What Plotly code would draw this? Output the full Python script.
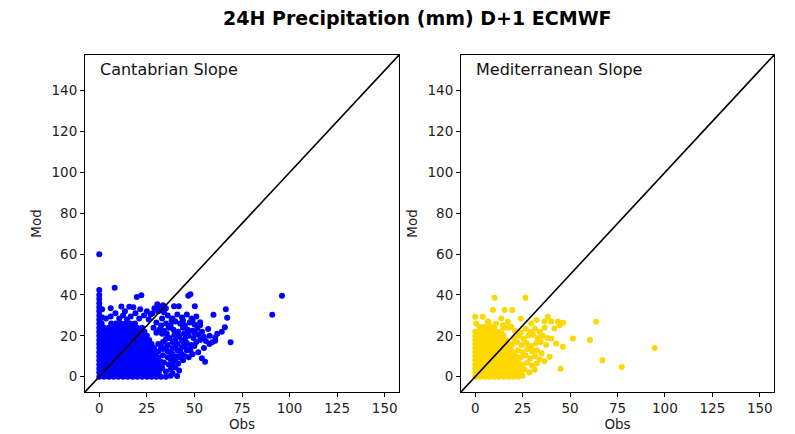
import plotly.graph_objects as go

# ---------------- data ----------------
title_text = "24H Precipitation (mm) D+1 ECMWF"
panel_names = ["Cantabrian Slope", "Mediterranean Slope"]
x_ticks = [0, 25, 50, 75, 100, 125, 150]
y_ticks = [0, 20, 40, 60, 80, 100, 120, 140]
axis_range = [-7.5, 157.5]
diag_ends = [-7.5, 157.5]

# Cantabrian: dense core, listed row by row (Mod level -> Obs values)
cant_core_mod = [0, 2, 4, 6, 8, 10, 12, 14, 16, 18, 20, 22, 24, 26]
cant_core_obs = [
    [0, 2.5, 5, 7.5, 10, 12.5, 15, 17.5, 20, 22.5, 25, 27.5, 30, 32.5],
    [0, 1.25, 3.75, 6.25, 8.75, 11.25, 13.75, 16.25, 18.75, 21.25, 23.75, 26.25, 28.75, 31.25],
    [0, 2.5, 5, 7.5, 10, 12.5, 15, 17.5, 20, 22.5, 25, 27.5, 30, 32.5],
    [0, 1.25, 3.75, 6.25, 8.75, 11.25, 13.75, 16.25, 18.75, 21.25, 23.75, 26.25, 28.75, 31.25],
    [0, 2.5, 5, 7.5, 10, 12.5, 15, 17.5, 20, 22.5, 25, 27.5, 30],
    [0, 1.25, 3.75, 6.25, 8.75, 11.25, 13.75, 16.25, 18.75, 21.25, 23.75, 26.25, 28.75],
    [0, 2.5, 5, 7.5, 10, 12.5, 15, 17.5, 20, 22.5, 25, 27.5, 30],
    [0, 1.25, 3.75, 6.25, 8.75, 11.25, 13.75, 16.25, 18.75, 21.25, 23.75, 26.25, 28.75],
    [0, 2.5, 5, 7.5, 10, 12.5, 15, 17.5, 20, 22.5, 25, 27.5],
    [0, 1.25, 3.75, 6.25, 8.75, 11.25, 13.75, 16.25, 18.75, 21.25, 23.75, 26.25],
    [0, 2.5, 5, 7.5, 10, 12.5, 15, 17.5, 20, 22.5, 25],
    [0, 1.25, 3.75, 6.25, 8.75, 11.25, 13.75, 16.25, 18.75, 21.25, 23.75],
    [0, 2.5, 5, 7.5, 10, 12.5, 15, 17.5, 20, 22.5],
    [0, 1.25, 6.25, 8.75, 11.25, 13.75, 16.25, 18.75],
]
# Cantabrian: scattered points (Obs, Mod)
cant_scatter = [
    (0, 28), (0, 30), (0, 32), (0, 34), (0, 36), (0, 38), (0, 40), (0, 42.5), (1.5, 33), (1.5, 29), (0, 60),
    (3.5, 28.5), (6, 29.5), (8.5, 31), (10.5, 28.5), (12.5, 30), (14.5, 28), (16.5, 29.5), (19, 31),
    (21, 28.5), (23.5, 30), (26, 28), (28, 31),
    (8.1, 43.6), (11.6, 34.4), (15.8, 34.2), (17.9, 34), (19.7, 39), (22.1, 39.9),
    (29, 33.5), (30.5, 35.5), (32, 34), (33.5, 35), (35, 33.5), (31, 32), (34, 31.5),
    (39.3, 34.5), (41.8, 34.5), (46.8, 39.6), (47.9, 40.4), (50.2, 34.5), (60, 30.3), (66.5, 33),
    (67.2, 28.8), (66, 24.2), (64.4, 22), (60.9, 19.2), (60.9, 17.6), (59.2, 16.9), (57.9, 16),
    (69, 16.8), (57.2, 23.3), (53, 25.2), (53, 26.7), (47.9, 12.7), (53.9, 9), (55.6, 7.3),
    (40.9, 0.3), (96, 39.6), (90.9, 30.3),
    (36, 30), (38.5, 28.5), (41, 30.5), (43.5, 29), (46, 30.5), (48.5, 28.5), (51, 29.5),
    (35, 26), (37.5, 25), (40, 27), (42.5, 26), (45, 25), (47.5, 26.5), (50, 25.5),
    (31.5, 23), (34, 22.5), (36.5, 24), (39, 23), (41.5, 22), (44, 24), (46.5, 23), (49, 22.5),
    (51.5, 23.5), (54, 22),
    (33, 21), (39.5, 20.5), (42, 19.5), (44.5, 21), (47, 20), (49.5, 19), (52, 20.5), (55, 19.5),
    (31, 16), (33.5, 17), (36, 15.5), (38.5, 17), (41, 16), (43.5, 17.5), (46, 16.5), (48.5, 15.5), (51, 17),
    (31, 12.5), (33.5, 13.5), (36, 12.5), (38.5, 14), (41, 13), (43.5, 14.5), (46, 13),
    (31, 9.5), (33.5, 10.5), (36, 9.5), (38.5, 11), (41, 10), (43.5, 11),
    (34, 7), (36.5, 6), (39, 7.5), (41.5, 6.5), (44, 8),
    (35, 2.5), (37.5, 3.5), (40, 4.5), (35, 0), (37.5, 0.5),
    (28.5, 24), (30, 26.5), (32.5, 25), (33, 28.5), (30, 21.5), (35.5, 21), (37, 19), (38, 27.5),
    (44, 27.5), (49, 27.5), (46, 21.5), (50, 21.5), (53, 18), (45, 18.5), (40, 18), (35, 18.5),
    (32.5, 14.5), (35, 14), (37.5, 12), (40, 14.5), (42.5, 12.5), (45, 15), (48, 14), (50, 15),
    (32, 7.5), (33, 4.5), (37.5, 8.5), (40, 8.5), (42.5, 9.5), (45, 10), (38.5, 5.5), (42, 3),
    (38.5, 1.5), (47, 9.5), (49, 11), (52, 12), (55, 14), (56, 17.5), (58, 20), (62, 21),
    (27, 30.5), (25, 32), (21.5, 33), (13.5, 32), (6, 33.5),
]

# Mediterranean: dense core, row by row
med_core_mod = [0, 2, 4, 6, 8, 10, 12, 14, 16, 18, 20, 22, 24]
med_core_obs = [
    [0, 2.5, 5, 7.5, 10, 12.5, 15, 17.5, 20, 22.5],
    [0, 1.25, 3.75, 6.25, 8.75, 11.25, 13.75, 16.25, 18.75, 21.25, 23.75],
    [0, 2.5, 5, 7.5, 10, 12.5, 15, 17.5, 20, 22.5, 25],
    [0, 1.25, 3.75, 6.25, 8.75, 11.25, 13.75, 16.25, 18.75, 21.25, 23.75],
    [0, 2.5, 5, 7.5, 10, 12.5, 15, 17.5, 20, 22.5],
    [0, 1.25, 3.75, 6.25, 8.75, 11.25, 13.75, 16.25, 18.75, 21.25],
    [0, 2.5, 5, 7.5, 10, 12.5, 15, 17.5, 20],
    [0, 1.25, 3.75, 6.25, 8.75, 11.25, 13.75, 16.25, 18.75],
    [0, 2.5, 5, 7.5, 10, 12.5, 15, 17.5],
    [0, 1.25, 3.75, 6.25, 8.75, 11.25, 13.75, 16.25],
    [0, 2.5, 5, 7.5, 10, 12.5, 15],
    [0, 1.25, 3.75, 6.25, 8.75, 11.25, 13.75],
    [2.5, 7.5, 10, 15, 17.5],
]
# Mediterranean: scattered points (Obs, Mod)
med_scatter = [
    (0, 29.3), (4, 29.3), (6.7, 27), (9.3, 32.6), (13.7, 28.5), (15.5, 32.6), (19.5, 32.6),
    (0.5, 26), (2.3, 24.4), (4.9, 24.4), (7.5, 25.2), (11, 26), (14.6, 25.2), (17.2, 26.9), (19, 24.4),
    (10.2, 38.6), (26.5, 38.6), (24, 28.5), (29.5, 26), (32.3, 27.7), (36.6, 27), (38.3, 29.3),
    (40.1, 27), (43.6, 27), (46.3, 26.4), (41.8, 23.6), (44.5, 25.2),
    (21, 22.5), (24, 21.5), (26.5, 23.5), (29, 22), (31.5, 23.5), (34, 22), (36.5, 24),
    (20.5, 19), (23, 20), (25.5, 18.5), (28, 20), (30.5, 20.5), (33, 19), (35.5, 20), (38, 19),
    (19.5, 16), (22, 17), (24.5, 15.5), (27, 16.5), (29.5, 15), (32, 16.5), (34.5, 17), (37.4, 15.5),
    (40.1, 18.7), (42.7, 16.3),
    (22.5, 13), (25, 12), (27.5, 13.5), (30, 12.5), (32.5, 13), (35, 11.5), (46.2, 14.7),
    (51.5, 18.7), (60.5, 17.9),
    (24, 9.5), (26.5, 10.5), (29, 9), (31.5, 10), (34, 8.5), (39.2, 9.8), (36.5, 7.5),
    (25, 6), (27.5, 7), (30, 5.5), (32.5, 6.5), (26, 3.5), (28.5, 2), (31.3, 3.4), (25, 0.5),
    (45, 3.9), (63.8, 26.9), (94.6, 14), (67, 8), (77.2, 4.7),
]

colors = ["#0000ff", "#ffd700"]


def assemble(core_mod, core_obs, scatter):
    xs, ys = [], []
    for m, row in zip(core_mod, core_obs):
        for o in row:
            xs.append(o)
            ys.append(m)
    for o, m in scatter:
        xs.append(o)
        ys.append(m)
    return xs, ys


cant_x, cant_y = assemble(cant_core_mod, cant_core_obs, cant_scatter)
med_x, med_y = assemble(med_core_mod, med_core_obs, med_scatter)

# ---------------- figure ----------------
W, H = 795, 434
fig = go.Figure()

panels = [(cant_x, cant_y, "x", "y"), (med_x, med_y, "x2", "y2")]
for i, (xs, ys, xa, ya) in enumerate(panels):
    fig.add_trace(go.Scatter(
        x=xs, y=ys, mode="markers", xaxis=xa, yaxis=ya,
        marker=dict(color=colors[i], size=6, line=dict(width=0)),
        showlegend=False, hoverinfo="skip"))
    fig.add_trace(go.Scatter(
        x=diag_ends, y=diag_ends, mode="lines", xaxis=xa, yaxis=ya,
        line=dict(color="black", width=1.6), showlegend=False, hoverinfo="skip"))

font_family = "DejaVu Sans"
tick_font = dict(family=font_family, size=13.5, color="#222222")
title_font = dict(family=font_family, size=13.5, color="#222222")

ydom = [1 - 392 / H, 1 - 55 / H]
xdoms = [[85 / W, 399 / W], [461 / W, 774 / W]]


def xaxis_style(dom, anchor):
    return dict(domain=dom, anchor=anchor, range=axis_range, tickvals=x_ticks,
                showline=True, mirror=True, linecolor="black", linewidth=1,
                ticks="outside", ticklen=4, tickwidth=1, tickcolor="black",
                showgrid=False, zeroline=False, tickfont=tick_font,
                title=dict(text="Obs", font=title_font, standoff=4))


def yaxis_style(anchor):
    return dict(domain=ydom, anchor=anchor, range=axis_range, tickvals=y_ticks,
                showline=True, mirror=True, linecolor="black", linewidth=1,
                ticks="outside", ticklen=4, tickwidth=1, tickcolor="black",
                showgrid=False, zeroline=False, tickfont=tick_font,
                title=dict(text="Mod", font=title_font, standoff=6))


fig.update_layout(
    width=W, height=H,
    margin=dict(l=0, r=0, t=0, b=0),
    paper_bgcolor="white", plot_bgcolor="white",
    xaxis=xaxis_style(xdoms[0], "y"),
    yaxis=yaxis_style("x"),
    xaxis2=xaxis_style(xdoms[1], "y2"),
    yaxis2=yaxis_style("x2"),
)

annotations = [
    dict(text="<b>" + title_text + "</b>", xref="paper", yref="paper",
         x=417 / W, y=1 - 18 / H, xanchor="center", yanchor="middle",
         showarrow=False, font=dict(family=font_family, size=19, color="black")),
]
for i, name in enumerate(panel_names):
    annotations.append(dict(
        text=name, xref=("x domain" if i == 0 else "x2 domain"),
        yref=("y domain" if i == 0 else "y2 domain"),
        x=13 / 314, y=1 - 15 / 337, xanchor="left", yanchor="middle",
        showarrow=False, font=dict(family=font_family, size=16, color="#111111")))
fig.update_layout(annotations=annotations)

fig.write_html("out.html")
